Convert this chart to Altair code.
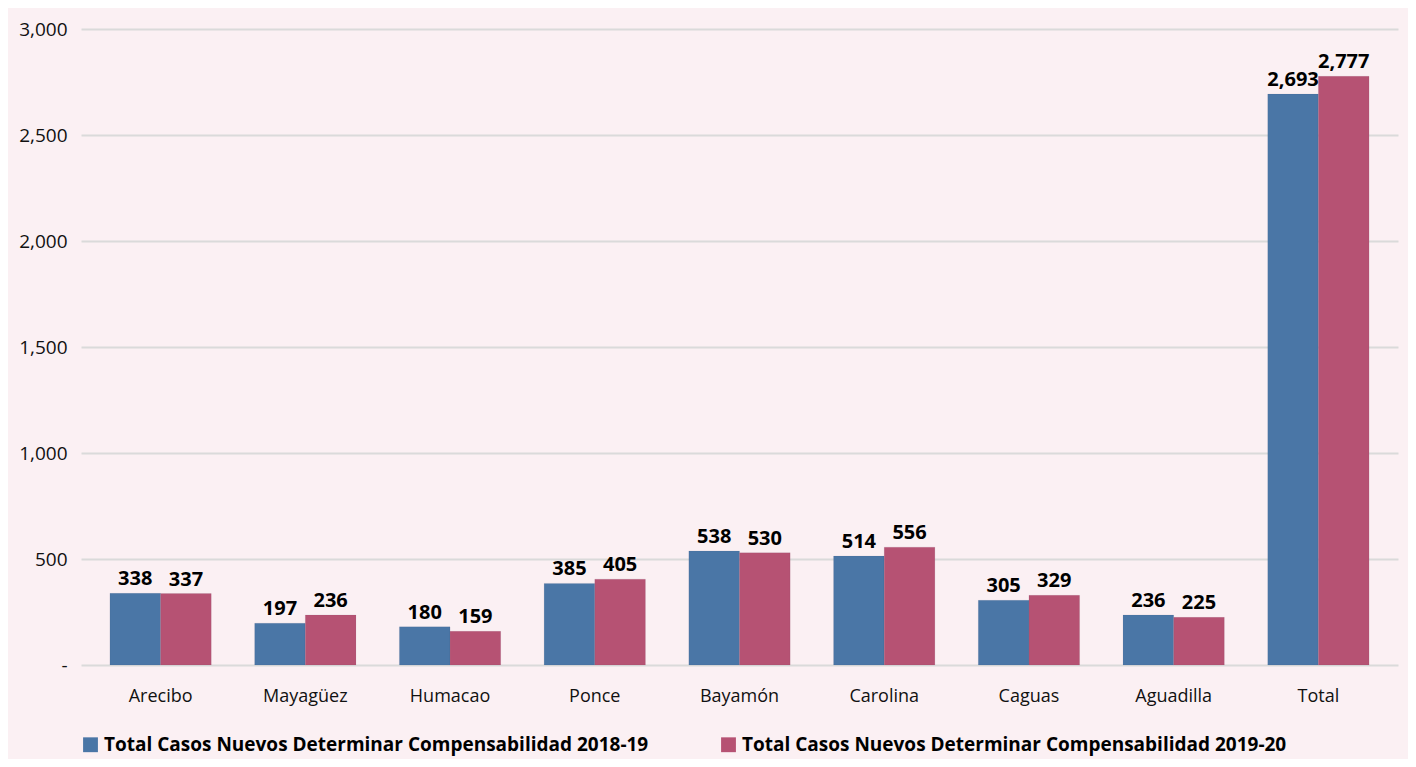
import altair as alt
import pandas as pd

categories = ["Arecibo", "Mayagüez", "Humacao", "Ponce", "Bayamón",
              "Carolina", "Caguas", "Aguadilla", "Total"]
series = ["Total Casos Nuevos Determinar Compensabilidad 2018-19",
          "Total Casos Nuevos Determinar Compensabilidad 2019-20"]
values_2018_19 = [338, 197, 180, 385, 538, 514, 305, 236, 2693]
values_2019_20 = [337, 236, 159, 405, 530, 556, 329, 225, 2777]
y_ticks = [0, 500, 1000, 1500, 2000, 2500, 3000]
colors = ["#4A76A6", "#B65273"]

rows = []
for c, a, b in zip(categories, values_2018_19, values_2019_20):
    rows.append({"region": c, "series": series[0], "value": a})
    rows.append({"region": c, "series": series[1], "value": b})
df = pd.DataFrame(rows)

font = "Open Sans"

x_enc = alt.X("region:N", sort=categories,
              scale=alt.Scale(paddingInner=0.3, paddingOuter=0.2),
              axis=alt.Axis(title=None, labelAngle=0, domain=False, ticks=False,
                            labelFontSize=18, labelColor="#111111",
                            labelPadding=22, labelFont=font))
xo_enc = alt.XOffset("series:N", sort=series)
y_enc = alt.Y("value:Q", scale=alt.Scale(domain=[0, 3000]),
              axis=alt.Axis(title=None, values=y_ticks, domain=False, ticks=False,
                            labelExpr="datum.value == 0 ? '-' : format(datum.value, ',')",
                            labelFontSize=19, labelColor="#111111", labelPadding=14,
                            labelFont=font, gridColor="#DADADA", gridWidth=2))

bars = alt.Chart(df).mark_bar(stroke="#3d3d5a", strokeOpacity=0.15, strokeWidth=0.5).encode(
    x=x_enc, xOffset=xo_enc, y=y_enc,
    color=alt.Color("series:N", sort=series,
                    scale=alt.Scale(domain=series, range=colors),
                    legend=alt.Legend(orient="bottom", title=None, direction="horizontal",
                                      symbolType="square", symbolSize=220,
                                      symbolStrokeWidth=0,
                                      labelFontSize=19, labelFontWeight="bold",
                                      labelColor="#000000", labelFont=font,
                                      labelLimit=900, columnPadding=70,
                                      symbolOffset=0, offset=30))
)

labels = alt.Chart(df).mark_text(dy=-14, fontSize=20, fontWeight="bold",
                                 color="#000000", font=font).encode(
    x=alt.X("region:N", sort=categories), xOffset=xo_enc,
    y=alt.Y("value:Q"),
    text=alt.Text("value:Q", format=",")
)

chart = (bars + labels).properties(
    width=1400, height=751,
    autosize=alt.AutoSizeParams(type="fit", contains="padding"),
    background="#FBF0F3",
    padding={"left": 10, "right": 10, "top": 12, "bottom": 4}
).configure_view(stroke=None)

chart.save("out.html", embed_options={"renderer": "svg", "actions": False})
